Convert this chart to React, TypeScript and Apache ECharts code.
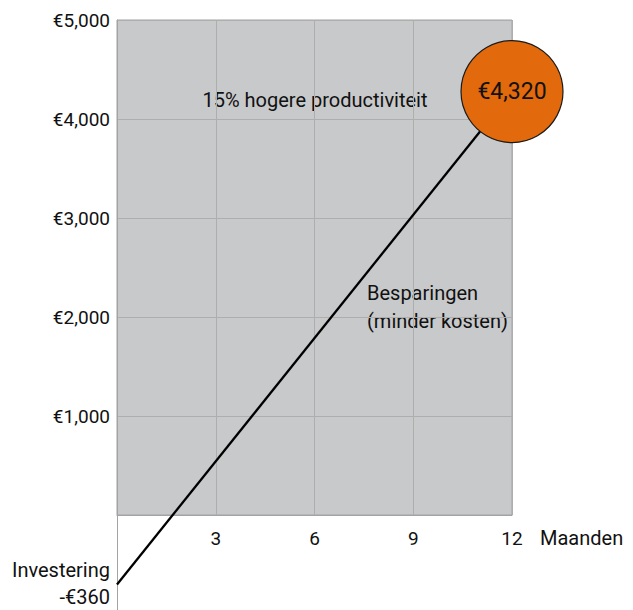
import React, { useEffect, useRef } from "react";
import * as echarts from "echarts";

const months = [0, 12];
const values = [-360, 4320];
const endPoint = [12, 4320];
const endLabel = "€4,320";
const yTicks = [0, 1000, 2000, 3000, 4000, 5000];
const xTicks = [0, 3, 6, 9, 12];
const xName = "Maanden";
const noteTop = "15% hogere productiviteit";
const noteMid = "Besparingen\n(minder kosten)";
const noteStart = "Investering\n-€360";

const FONT = "Roboto, 'Liberation Sans', sans-serif";

function euro(v: number): string {
  const s = String(Math.abs(v)).replace(/\B(?=(\d{3})+(?!\d))/g, ",");
  return (v < 0 ? "-€" : "€") + s;
}

export default function App() {
  const ref = useRef<HTMLDivElement>(null);
  useEffect(() => {
    if (!ref.current) return;
    const chart = echarts.init(ref.current, undefined, { renderer: "svg" });
    const lineData = months.map((m, i) => [m, values[i]]);
    chart.setOption({
      animation: false,
      textStyle: { fontFamily: FONT },
      grid: [
        {
          left: 117, top: 20, width: 395, height: 495,
          show: true, backgroundColor: "#c8c9cb", borderColor: "#a3a3a3", borderWidth: 1,
        },
        { left: 117, top: 515, width: 395, height: 95, show: false },
      ],
      xAxis: [
        {
          type: "value", gridIndex: 0, min: xTicks[0], max: xTicks[xTicks.length - 1], interval: 3,
          axisLine: { show: true, onZero: false, lineStyle: { color: "#a3a3a3", width: 1 } },
          axisTick: { show: false },
          axisLabel: {
            margin: 14, fontSize: 19, color: "#111", fontFamily: FONT,
            formatter: (v: number) => (v === 0 ? "" : String(v)),
          },
          splitLine: { show: true, lineStyle: { color: "#aeaeae", width: 1 } },
        },
        { type: "value", gridIndex: 1, min: 0, max: 12, show: false },
        { type: "value", gridIndex: 0, min: 0, max: 12, show: false },
      ],
      yAxis: [
        {
          type: "value", gridIndex: 0, min: yTicks[0], max: yTicks[yTicks.length - 1], interval: 1000,
          axisLine: { show: true, onZero: false, lineStyle: { color: "#a3a3a3", width: 1 } },
          axisTick: { show: false },
          axisLabel: {
            margin: 7, fontSize: 19, color: "#111", fontFamily: FONT,
            formatter: (v: number) => (v === 0 ? "" : euro(v)),
          },
          splitLine: { show: true, lineStyle: { color: "#aeaeae", width: 1 } },
        },
        {
          type: "value", gridIndex: 1, min: 0, max: 1,
          axisLine: { show: true, onZero: false, lineStyle: { color: "#a3a3a3", width: 1 } },
          axisTick: { show: false }, axisLabel: { show: false }, splitLine: { show: false },
        },
        // NOTE: the reference draws its line on a scale that differs from the visible
        // €0–€5,000 axis (its start at -€360 sits ~70px below zero, not ~36px).
        // To reproduce that look, the line and circle use this hidden axis (300–5000).
        // For a chart that is true to scale, set the series to yAxisIndex 0 instead.
        { type: "value", gridIndex: 0, min: 300, max: 5000, show: false },
      ],
      series: [
        {
          type: "line", xAxisIndex: 2, yAxisIndex: 2, data: lineData, clip: false,
          symbol: "none", lineStyle: { color: "#000", width: 2.3 }, z: 5,
        },
        {
          type: "scatter", xAxisIndex: 2, yAxisIndex: 2, data: [endPoint], clip: false,
          symbol: "circle", symbolSize: 102, z: 6,
          itemStyle: { color: "#e2690c", borderColor: "#1a1a1a", borderWidth: 1.2, opacity: 1 },
          label: {
            show: true, position: "inside", formatter: endLabel,
            fontSize: 23, color: "#111", fontFamily: FONT,
          },
        },
      ],
      graphic: [
        {
          type: "text", left: 540, top: 528,
          style: { text: xName, fontSize: 20, fill: "#111", fontFamily: FONT },
        },
        {
          type: "text", x: 315, y: 100,
          style: { text: noteTop, fontSize: 20, fill: "#111", fontFamily: FONT, align: "center", verticalAlign: "middle" },
        },
        {
          type: "text", x: 367, y: 307,
          style: { text: noteMid, fontSize: 20, lineHeight: 28, fill: "#111", fontFamily: FONT, align: "left", verticalAlign: "middle" },
        },
        {
          type: "text", x: 110, y: 583,
          style: { text: noteStart, fontSize: 20, lineHeight: 27, fill: "#111", fontFamily: FONT, align: "right", verticalAlign: "middle" },
        },
      ],
    });
    return () => chart.dispose();
  }, []);
  return (
    <div
      ref={ref}
      style={{ position: "fixed", left: 0, top: 0, width: 633, height: 610, background: "#fff" }}
    />
  );
}
